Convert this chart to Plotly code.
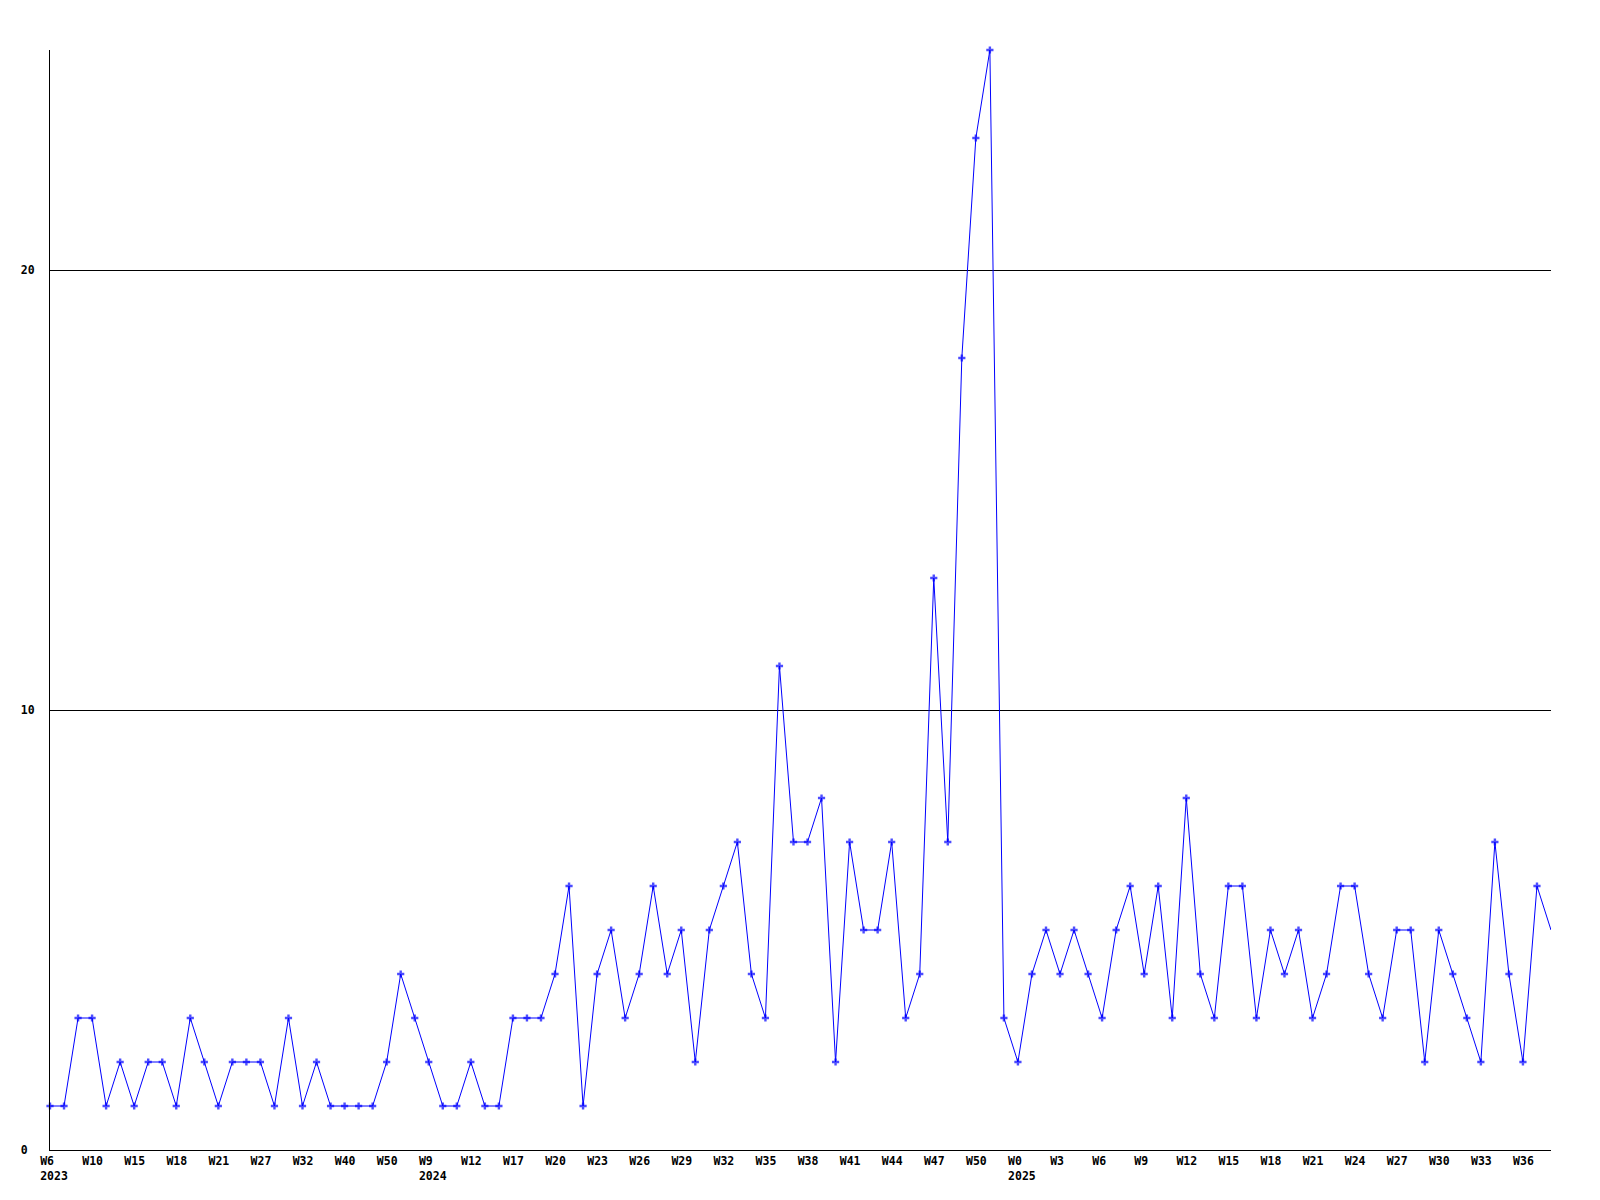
import plotly.graph_objects as go

# Weekly counts (one point per week with data)
values = [
    1, 1, 3, 3, 1, 2, 1, 2, 2, 1,
    3, 2, 1, 2, 2, 2, 1, 3, 1, 2,
    1, 1, 1, 1, 2, 4, 3, 2, 1, 1,
    2, 1, 1, 3, 3, 3, 4, 6, 1, 4,
    5, 3, 4, 6, 4, 5, 2, 5, 6, 7,
    4, 3, 11, 7, 7, 8, 2, 7, 5, 5,
    7, 3, 4, 13, 7, 18, 23, 25, 3, 2,
    4, 5, 4, 5, 4, 3, 5, 6, 4, 6,
    3, 8, 4, 3, 6, 6, 3, 5, 4, 5,
    3, 4, 6, 6, 4, 3, 5, 5, 2, 5,
    4, 3, 2, 7, 4, 2, 6, 5,
]

# Tick labels, one every third point
tick_labels = [
    "W6<br>2023", "W10", "W15", "W18", "W21", "W27", "W32", "W40", "W50",
    "W9<br>2024", "W12", "W17", "W20", "W23", "W26", "W29", "W32", "W35",
    "W38", "W41", "W44", "W47", "W50", "W0<br>2025", "W3", "W6", "W9",
    "W12", "W15", "W18", "W21", "W24", "W27", "W30", "W33", "W36",
]
tick_step = 3

y_ticks = [0, 10, 20]

NB = "\u00a0"


def pad(label, width=4):
    parts = label.split("<br>")
    return "<br>".join(p + NB * (width - len(p)) for p in parts)


x = list(range(len(values)))
tickvals = [i * tick_step for i in range(len(tick_labels))]
ticktext = [pad(t) for t in tick_labels]

marker_sizes = [6] * (len(values) - 1) + [0]

FONT = "DejaVu Sans Mono"

fig = go.Figure()
fig.add_trace(go.Scatter(
    x=x,
    y=values,
    mode="lines+markers",
    line=dict(color="#0000FF", width=1),
    marker=dict(symbol="cross", size=marker_sizes, color="#0000FF",
                line=dict(width=0)),
    cliponaxis=False,
    showlegend=False,
))

fig.update_layout(
    width=1600,
    height=1200,
    margin=dict(l=42, r=57, t=42, b=58, autoexpand=False),
    paper_bgcolor="white",
    plot_bgcolor="white",
    font=dict(family=FONT, size=11.5, color="black", weight="bold"),
    xaxis=dict(
        range=[0, len(values) - 1],
        tickmode="array",
        tickvals=tickvals,
        ticktext=ticktext,
        showgrid=False,
        zeroline=False,
        showline=True,
        linecolor="black",
        linewidth=1,
        ticks="",
        ticklabelshift=4,
        ticklabelstandoff=0,
        tickangle=0,
        automargin=False,
        tickfont=dict(family=FONT, size=11.5, color="black", weight="bold"),
    ),
    yaxis=dict(
        range=[0, 25],
        tickmode="array",
        tickvals=y_ticks,
        ticktext=[str(v) + NB * (2 - len(str(v))) for v in y_ticks],
        showgrid=True,
        gridcolor="black",
        gridwidth=1,
        zeroline=False,
        showline=True,
        linecolor="black",
        linewidth=1,
        ticks="",
        ticklabelstandoff=12,
        automargin=False,
        tickfont=dict(family=FONT, size=11.5, color="black", weight="bold"),
    ),
)

fig.write_html("out.html", config={"displayModeBar": False})
